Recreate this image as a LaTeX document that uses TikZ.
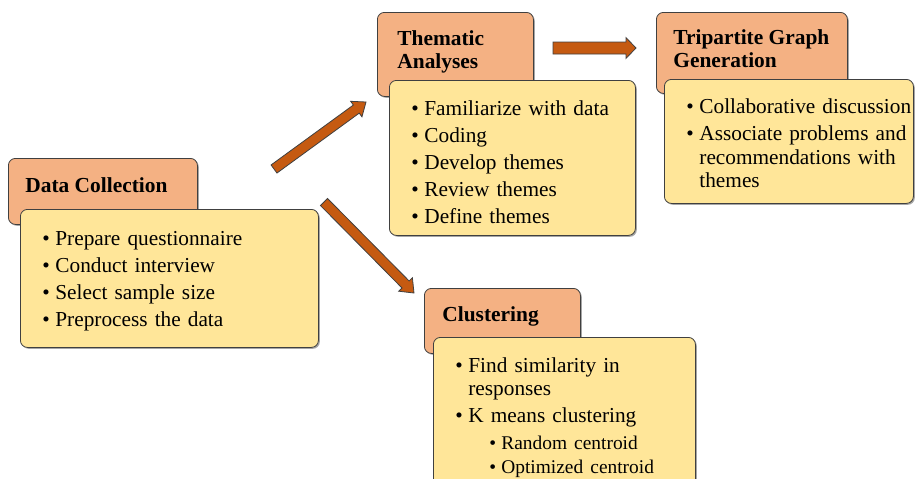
\documentclass[tikz,border=0pt]{standalone}
\usepackage{fontspec}
\setmainfont{Liberation Serif}
\usetikzlibrary{calc, shadows}
\definecolor{chead}{HTML}{F4B183}
\definecolor{cbody}{HTML}{FFE699}
\definecolor{carrow}{HTML}{C55A11}
\definecolor{cline}{HTML}{404040}
% list lines inside the boxes
\newcommand{\bitem}[1]{\makebox[6.5pt][l]{\textbullet}\mbox{#1}}
\newcommand{\bcont}[1]{\hspace*{6.5pt}\mbox{#1}}
\newcommand{\bsub}[1]{\hspace*{17pt}{\fontsize{9.7}{11.5}\selectfont\makebox[6pt][l]{\textbullet}\mbox{#1}}}
\newcommand{\btop}[1]{\rule{0pt}{#1}}
% block arrow: tail, tip, half shaft, half head, head length
\newcommand{\blockarrow}[5]{%
  \path ($(#2)!#5!(#1)$) coordinate (ab);
  \draw[barrow] ($(#1)!#3!90:(#2)$) -- ($(ab)!#3!90:(#2)$) -- ($(ab)!#4!90:(#2)$) -- (#2)
    -- ($(ab)!#4!-90:(#2)$) -- ($(ab)!#3!-90:(#2)$) -- ($(#1)!#3!-90:(#2)$) -- cycle;}

\begin{document}
\begin{tikzpicture}[
  x=0.5pt, y=-0.5pt,
  font=\fontsize{10.65}{11.75}\selectfont,
  shade/.style={drop shadow={shadow xshift=0.7pt, shadow yshift=-0.7pt, opacity=0.35, fill=black}},
  head/.style={draw=cline, fill=chead, rounded corners=3.5pt, inner sep=0pt,
               anchor=north west, shade},
  title/.style={font=\fontsize{10.7}{11.5}\selectfont\bfseries, align=left,
                anchor=base west, inner sep=0pt},
  body/.style={draw=cline, fill=cbody, rounded corners=3.5pt, inner xsep=11pt,
               inner ysep=0pt, align=left, anchor=north west, shade},
  barrow/.style={draw=black!75, fill=carrow, line width=0.4pt},
  ]
\clip (0,0) rectangle (915,478);

% Data collection
\node[head, minimum width=94.5pt, minimum height=33pt] (dchead) at (8,158) {};
\node[title] (dctitle) at (25,192) {Data Collection};
\node[body, text width=127pt, minimum height=69pt] (dcbody) at (20,209)
  {\btop{9.5pt}\bitem{Prepare questionnaire}\\[1.75pt]
   \bitem{Conduct interview}\\[1.75pt]
   \bitem{Select sample size}\\[1.75pt]
   \bitem{Preprocess the data}};

% Thematic analyses
\node[head, minimum width=78pt, minimum height=42pt] (tahead) at (377,12) {};
\node[title] (tatitle) at (397,68) {Thematic\\Analyses};
\node[body, text width=101pt, minimum height=77.5pt] (tabody) at (389,80)
  {\btop{11.5pt}\bitem{Familiarize with data}\\[1.75pt]
   \bitem{Coding}\\[1.75pt]
   \bitem{Develop themes}\\[1.75pt]
   \bitem{Review themes}\\[1.75pt]
   \bitem{Define themes}};

% Tripartite graph generation
\node[head, minimum width=95.5pt, minimum height=40.5pt] (tghead) at (656,12) {};
\node[title] (tgtitle) at (673,67) {Tripartite Graph\\Generation};
\node[body, text width=102.5pt, minimum height=62pt] (tgbody) at (664,79)
  {\btop{9.5pt}\bitem{Collaborative discussion}\\[1.75pt]
   \bitem{Associate problems and}\\
   \bcont{recommendations with}\\
   \bcont{themes}};

% Clustering
\node[head, minimum width=78pt, minimum height=32.5pt] (clhead) at (424,288) {};
\node[title] (cltitle) at (442,321) {Clustering};
\node[body, text width=109pt, minimum height=78pt] (clbody) at (433,337)
  {\btop{9.5pt}\bitem{Find similarity in}\\
   \bcont{responses}\\[1.75pt]
   \bitem{K means clustering}\\[1.75pt]
   \bsub{Random centroid}\\
   \bsub{Optimized centroid}};

% arrows
\coordinate (a1s) at (274,169);
\coordinate (a1e) at (366,102);
\coordinate (a2s) at (324,202);
\coordinate (a2e) at (414,293);
\coordinate (a3s) at (553,48);
\coordinate (a3e) at (636,48);
\blockarrow{a1s}{a1e}{2.5pt}{4.8pt}{6pt}
\blockarrow{a2s}{a2e}{2.5pt}{4.8pt}{6pt}
\blockarrow{a3s}{a3e}{3pt}{5.2pt}{5pt}
\end{tikzpicture}
\end{document}
